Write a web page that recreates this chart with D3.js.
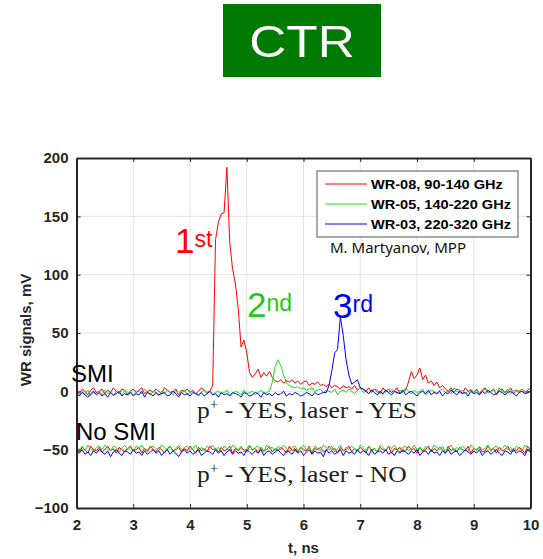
<!DOCTYPE html>
<html>
<head>
<meta charset="utf-8">
<script src="https://cdn.jsdelivr.net/npm/d3@7/dist/d3.min.js"></script>
<style>
  html, body { margin: 0; padding: 0; background: #fff; }
  svg { display: block; }
</style>
</head>
<body>
<svg id="chart" width="543" height="559"></svg>
<script>
// Sampling grid of the scope traces (ns)
const tStart = 2, tStep = 0.05, nSamples = 161;

const xTicks = [2, 3, 4, 5, 6, 7, 8, 9, 10];
const yTicks = [-100, -50, 0, 50, 100, 150, 200];

const seriesNames = ["WR-08, 90-140 GHz", "WR-05, 140-220 GHz", "WR-03, 220-320 GHz"];
const seriesColors = ["#ff0000", "#19e019", "#0000ff"];

// SMI: p+ - YES, laser - YES (mV)
const smiWR08 = [
  1,-2,2,0,-3,1,3,-1,0,2,
  -2,1,-1,3,0,-2,2,1,-3,0,
  2,-1,1,3,-2,0,1,-1,2,0,
  -2,3,1,-1,0,2,-3,1,0,2,
  -1,1,-2,0,3,1,-1,0,5,130,
  145,152,153,192,128,105,92,71,38,44,
  33,16,12,15,19,12,16,13,17,12,
  9,8,10,7,9,8,10,7,9,6,
  8,9,5,7,6,8,5,6,4,6,
  3,5,4,2,5,3,4,2,5,1,
  3,2,0,3,-1,2,1,-2,3,0,
  2,-1,1,3,-2,0,1,8,17,11,
  14,20,10,14,7,9,5,8,3,5,
  2,0,3,-1,2,1,-2,3,0,1,
  -1,2,-2,1,3,-1,0,2,-3,1,
  2,-1,0,3,-2,1,0,2,-1,1,
  3
];
const smiWR05 = [
  -1,-3,0,-2,1,-4,-1,-2,0,-3,
  1,-2,-1,-4,0,-1,-3,1,-2,0,
  -3,-1,0,-2,2,-1,-3,0,-1,-4,
  0,-2,1,-1,-3,0,-2,-1,1,-3,
  -1,0,-2,-4,-1,1,-2,0,-3,-1,
  0,-2,-1,1,-3,-2,0,-1,-3,1,
  -2,-1,0,-3,-1,1,-2,-1,0,8,
  21,27,22,14,7,5,4,3,4,2,
  3,1,2,3,0,1,2,-1,1,0,
  -1,2,-3,0,1,-1,2,0,-2,1,
  3,-1,0,-2,1,2,-1,0,-3,1,
  -1,2,0,-2,1,-1,3,0,-2,1,
  -1,0,2,-3,-1,1,0,-2,1,2,
  -1,0,-2,3,0,-1,1,-2,0,2,
  -1,1,-3,0,2,-1,0,1,-2,3,
  0,-1,2,-2,1,0,-1,2,0,-2,
  1
];
const smiWR03 = [
  -2,-4,-1,-3,-5,-2,0,-3,-1,-4,
  -2,-5,-1,-3,-2,0,-4,-2,-3,-1,
  -4,-2,-3,0,-5,-1,-2,-4,-1,-3,
  -2,-1,-4,-3,0,-2,-5,-1,-3,-2,
  -4,-1,-2,-3,-1,-4,-2,0,-3,-2,
  -5,-1,-3,-2,-4,-1,-2,-3,-5,-1,
  -2,-4,-3,-1,-2,-5,-1,-3,-2,-4,
  -1,-3,-2,0,-4,-2,-3,-1,-2,-4,
  -3,-1,-2,-4,-1,-3,-2,-1,-1,5,
  18,33,36,64,48,27,14,6,8,10,
  3,2,0,-2,1,-1,-3,0,-2,1,
  -1,-3,0,-1,-2,1,-3,-1,0,-2,
  -4,-1,0,-2,1,-3,-1,-2,0,-4,
  -1,-2,1,-1,-3,0,-2,-1,-4,0,
  -2,-1,-3,0,-2,1,-1,-3,-2,0,
  -1,-3,-1,0,-2,-4,-1,0,-2,-1,
  0
];

// No SMI: p+ - YES, laser - NO (mV)
const noSmiWR08 = [
  -49,-52,-48,-50,-53,-47,-50,-51,-48,-52,
  -50,-47,-51,-49,-53,-48,-50,-52,-49,-47,
  -51,-50,-48,-53,-49,-51,-47,-50,-52,-48,
  -50,-53,-49,-47,-51,-50,-48,-52,-49,-51,
  -47,-50,-53,-48,-51,-49,-52,-47,-50,-49,
  -52,-48,-51,-50,-47,-53,-49,-51,-48,-50,
  -52,-47,-50,-49,-53,-48,-51,-50,-47,-52,
  -49,-51,-48,-50,-53,-47,-51,-49,-52,-48,
  -50,-51,-47,-53,-49,-50,-48,-52,-51,-47,
  -50,-49,-53,-48,-51,-50,-47,-52,-49,-51,
  -48,-50,-53,-47,-51,-49,-52,-48,-50,-51,
  -47,-53,-49,-50,-48,-52,-51,-47,-50,-49,
  -53,-48,-51,-50,-47,-52,-49,-51,-48,-50,
  -53,-47,-51,-49,-52,-48,-50,-51,-47,-53,
  -49,-50,-48,-52,-51,-47,-50,-49,-53,-48,
  -51,-50,-47,-52,-49,-51,-48,-50,-53,-47,
  -50
];
const noSmiWR05 = [
  -48,-50,-47,-51,-46,-49,-52,-48,-47,-50,
  -46,-49,-51,-47,-48,-52,-49,-46,-50,-48,
  -51,-47,-49,-46,-50,-52,-48,-47,-49,-51,
  -46,-48,-50,-47,-52,-49,-46,-51,-48,-47,
  -50,-49,-46,-52,-48,-51,-47,-49,-46,-50,
  -48,-52,-47,-49,-51,-46,-48,-50,-47,-52,
  -49,-46,-51,-48,-47,-50,-52,-46,-49,-48,
  -51,-47,-50,-46,-49,-52,-48,-47,-51,-49,
  -46,-50,-48,-52,-47,-49,-51,-46,-48,-50,
  -47,-52,-49,-46,-51,-48,-50,-47,-49,-52,
  -46,-48,-51,-47,-50,-49,-52,-46,-48,-51,
  -47,-49,-46,-50,-52,-48,-47,-51,-49,-46,
  -50,-48,-52,-47,-49,-51,-46,-48,-50,-47,
  -52,-49,-46,-51,-48,-50,-47,-49,-52,-46,
  -48,-51,-47,-50,-49,-46,-52,-48,-47,-51,
  -49,-46,-50,-48,-52,-47,-49,-51,-46,-48,
  -50
];
const noSmiWR03 = [
  -51,-53,-50,-54,-52,-55,-51,-53,-50,-52,
  -54,-51,-56,-52,-50,-53,-55,-51,-52,-54,
  -50,-53,-52,-55,-51,-54,-52,-50,-53,-51,
  -55,-52,-50,-54,-51,-53,-56,-52,-50,-53,
  -51,-54,-52,-50,-55,-53,-51,-52,-54,-50,
  -53,-51,-55,-52,-50,-54,-51,-53,-52,-55,
  -50,-52,-54,-51,-53,-50,-55,-52,-51,-54,
  -52,-50,-53,-55,-51,-52,-54,-50,-53,-51,
  -55,-52,-50,-54,-51,-53,-52,-56,-50,-53,
  -51,-54,-52,-50,-55,-51,-53,-52,-54,-50,
  -53,-51,-52,-55,-50,-54,-52,-51,-53,-50,
  -54,-52,-55,-51,-53,-50,-52,-54,-51,-53,
  -50,-55,-52,-51,-54,-50,-53,-52,-55,-51,
  -53,-50,-54,-52,-51,-55,-53,-50,-52,-54,
  -51,-53,-50,-55,-52,-51,-54,-52,-50,-53,
  -55,-51,-52,-54,-50,-53,-51,-52,-55,-50,
  -52
];

const traces = [
  { values: noSmiWR08, color: seriesColors[0] },
  { values: noSmiWR05, color: seriesColors[1] },
  { values: noSmiWR03, color: seriesColors[2] },
  { values: smiWR08, color: seriesColors[0] },
  { values: smiWR05, color: seriesColors[1] },
  { values: smiWR03, color: seriesColors[2] }
];

const svg = d3.select("#chart");
const axisColor = "#262626";
const sans = "Liberation Sans, Arial, sans-serif";

// Text placed at (px, py), widened horizontally by sx
function wideText(parent, px, py, sx) {
  return parent.append("text").attr("transform", `translate(${px},${py}) scale(${sx},1)`);
}

// Slide title
svg.append("rect").attr("x", 223).attr("y", 4).attr("width", 158).attr("height", 73)
  .attr("fill", "#007a00");
wideText(svg, 302, 57, 1.14).attr("text-anchor", "middle")
  .attr("font-family", sans).attr("font-size", 45)
  .attr("fill", "#fff").text("CTR");

const x = d3.scaleLinear().domain([2, 10]).range([76.5, 530.5]);
const y = d3.scaleLinear().domain([-100, 200]).range([508, 158]);

// Grid
const grid = svg.append("g").attr("stroke", "#e2e2e2").attr("stroke-width", 1);
grid.selectAll("line.gx").data(xTicks.slice(1, -1)).join("line")
  .attr("x1", d => x(d)).attr("x2", d => x(d)).attr("y1", y(-100)).attr("y2", y(200));
grid.selectAll("line.gy").data(yTicks.slice(1, -1)).join("line")
  .attr("x1", x(2)).attr("x2", x(10)).attr("y1", d => y(d)).attr("y2", d => y(d));

// Traces
const line = d3.line().x((d, i) => x(tStart + i * tStep)).y(d => y(d));
svg.append("g").selectAll("path").data(traces).join("path")
  .attr("d", d => line(d.values.slice(0, nSamples)))
  .attr("fill", "none").attr("stroke", d => d.color).attr("stroke-width", 1)
  .attr("stroke-linejoin", "round");

// Axes (ticks pointing inward on all four sides)
const axB = svg.append("g").attr("transform", `translate(0,${y(-100)})`)
  .call(d3.axisBottom(x).tickValues(xTicks).tickSizeInner(-4).tickSizeOuter(0).tickPadding(11));
const axL = svg.append("g").attr("transform", `translate(${x(2)},0)`)
  .call(d3.axisLeft(y).tickValues(yTicks).tickSizeInner(-4).tickSizeOuter(0).tickPadding(8));
const axT = svg.append("g").attr("transform", `translate(0,${y(200)})`)
  .call(d3.axisTop(x).tickValues(xTicks).tickSizeInner(-4).tickSizeOuter(0).tickFormat(""));
const axR = svg.append("g").attr("transform", `translate(${x(10)},0)`)
  .call(d3.axisRight(y).tickValues(yTicks).tickSizeInner(-4).tickSizeOuter(0).tickFormat(""));
[axB, axL, axT, axR].forEach(g => {
  g.select(".domain").attr("stroke", axisColor).attr("stroke-width", 2);
  g.selectAll(".tick line").attr("stroke", axisColor);
  g.selectAll("text").attr("font-family", sans).attr("font-weight", "bold")
    .attr("font-size", 15).attr("fill", axisColor);
});

svg.append("text").attr("x", x(6)).attr("y", 553).attr("text-anchor", "middle")
  .attr("font-family", sans).attr("font-weight", "bold").attr("font-size", 15)
  .attr("fill", axisColor).text("t, ns");
svg.append("text").attr("transform", "translate(31,330) rotate(-90)").attr("text-anchor", "middle")
  .attr("font-family", sans).attr("font-weight", "bold").attr("font-size", 15)
  .attr("fill", axisColor).text("WR signals, mV");

// Legend
const legend = svg.append("g");
legend.append("rect").attr("x", 317).attr("y", 171).attr("width", 201).attr("height", 66)
  .attr("fill", "#fff").attr("stroke", "#555").attr("stroke-width", 1);
seriesNames.forEach((name, i) => {
  const ly = 184 + i * 20;
  legend.append("line").attr("x1", 325).attr("x2", 367).attr("y1", ly).attr("y2", ly)
    .attr("stroke", seriesColors[i]).attr("stroke-width", 1);
  wideText(legend, 371, ly + 4.5, 1.12)
    .attr("font-family", sans).attr("font-weight", "bold").attr("font-size", 13)
    .attr("fill", "#000").text(name);
});
svg.append("text").attr("x", 330).attr("y", 253)
  .attr("font-family", "Noto Sans, sans-serif").attr("font-size", 15)
  .attr("fill", "#111").text("M. Martyanov, MPP");

// Peak order labels
const ann = svg.append("g").attr("font-family", sans);
function ordinal(px, py, num, suf, color) {
  const t = ann.append("text").attr("x", px).attr("y", py).attr("fill", color).attr("font-size", 35);
  t.append("tspan").text(num);
  t.append("tspan").attr("font-size", 23).attr("dy", -6).text(suf);
}
ordinal(175, 253, "1", "st", "#ff0000");
ordinal(247, 317, "2", "nd", "#1ec81e");
ordinal(333, 318, "3", "rd", "#0000ff");

// Condition labels
svg.append("text").attr("x", 71).attr("y", 382).attr("font-family", sans).attr("font-size", 24)
  .attr("fill", "#000").text("SMI");
svg.append("text").attr("x", 76).attr("y", 440).attr("font-family", sans).attr("font-size", 24)
  .attr("fill", "#000").text("No SMI");

function condition(px, py, rest) {
  const t = wideText(svg, px, py, 1.09)
    .attr("font-family", "Liberation Serif, Times New Roman, serif").attr("font-size", 23.5)
    .attr("fill", "#1e1e1e");
  t.append("tspan").text("p");
  t.append("tspan").attr("font-size", 14).attr("dy", -9).text("+");
  t.append("tspan").attr("dy", 9).text(rest);
}
condition(197, 418, " - YES, laser - YES");
condition(197, 482, " - YES, laser - NO");
</script>
</body>
</html>
